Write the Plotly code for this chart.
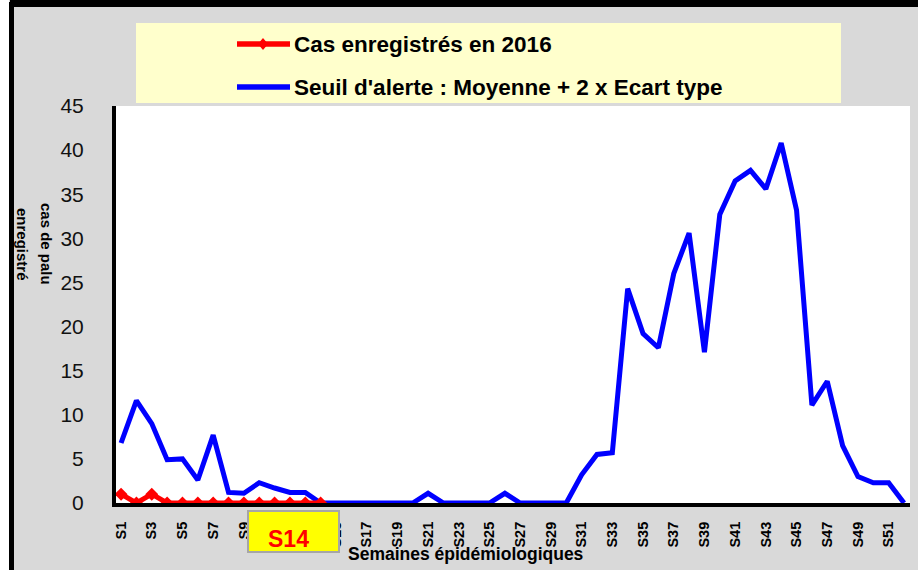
import plotly.graph_objects as go

# ---------------- data ----------------
weeks = ["S%d" % i for i in range(1, 53)]
tick_weeks = ["S%d" % i for i in range(1, 53, 2)]

cases_2016 = [1, 0, 1, 0, 0, 0, 0, 0, 0, 0, 0, 0, 0, 0]

alert_threshold = [
    6.8, 11.6, 9.0, 4.9, 5.0, 2.6, 7.7, 1.2, 1.1, 2.3,
    1.7, 1.2, 1.2, 0, 0, 0, 0, 0, 0, 0,
    1.1, 0, 0, 0, 0, 1.1, 0, 0, 0, 0,
    3.2, 5.5, 5.7, 24.3, 19.2, 17.6, 26.0, 30.6, 17.1, 32.7,
    36.5, 37.7, 35.6, 40.8, 33.2, 11.1, 13.8, 6.5, 3.0, 2.3,
    2.3, 0,
]

y_ticks = [0, 5, 10, 15, 20, 25, 30, 35, 40, 45]

# ---------------- layout geometry (pixels) ----------------
W, H = 918, 570
L, R, T, B = 116, 8, 106, 67
PW = W - L - R
PH = H - T - B


def px(xp):
    return (xp - L) / PW


def py(yp):
    return (H - B - yp) / PH


FONT = "Liberation Sans, Arial, sans-serif"

fig = go.Figure()

fig.add_trace(go.Scatter(
    x=weeks, y=alert_threshold, mode="lines",
    line=dict(color="#0000FF", width=5),
    name="Seuil d'alerte : Moyenne + 2 x Ecart type",
))
fig.add_trace(go.Scatter(
    x=weeks[:len(cases_2016)], y=cases_2016, mode="lines+markers",
    line=dict(color="#FF0000", width=5),
    marker=dict(symbol="diamond", size=10, color="#FF0000"),
    name="Cas enregistrés en 2016",
))

shapes = [
    # left white strip and black frame
    dict(type="rect", xref="paper", yref="paper", x0=px(0), x1=px(9), y0=py(0), y1=py(H),
         fillcolor="white", line=dict(width=0), layer="below"),
    dict(type="rect", xref="paper", yref="paper", x0=px(9), x1=px(14), y0=py(2), y1=py(H),
         fillcolor="black", line=dict(width=0), layer="below"),
    dict(type="rect", xref="paper", yref="paper", x0=px(10), x1=px(W), y0=py(0), y1=py(7),
         fillcolor="black", line=dict(width=0), layer="below"),
    # legend box
    dict(type="rect", xref="paper", yref="paper", x0=px(136), x1=px(841), y0=py(23), y1=py(103),
         fillcolor="#FFFFCC", line=dict(width=0), layer="below"),
    # legend samples
    dict(type="line", xref="paper", yref="paper", x0=px(237), x1=px(290), y0=py(44), y1=py(44),
         line=dict(color="#FF0000", width=5.5)),
    dict(type="path", xref="paper", yref="paper",
         path="M %f,%f L %f,%f L %f,%f L %f,%f Z" % (
             px(263), py(38), px(268), py(44), px(263), py(50), px(258), py(44)),
         fillcolor="#FF0000", line=dict(width=0)),
    dict(type="line", xref="paper", yref="paper", x0=px(237), x1=px(290), y0=py(87), y1=py(87),
         line=dict(color="#0000FF", width=5.5)),
]

annotations = [
    dict(text="<b>Cas enregistrés en 2016</b>", xref="paper", yref="paper",
         x=px(292), y=py(44), xanchor="left", yanchor="middle", showarrow=False,
         font=dict(family=FONT, size=22.5, color="black")),
    dict(text="<b>Seuil d'alerte : Moyenne + 2 x Ecart type</b>", xref="paper", yref="paper",
         x=px(292), y=py(87), xanchor="left", yanchor="middle", showarrow=False,
         font=dict(family=FONT, size=22.5, color="black")),
    # y axis title (two lines)
    dict(text="<b>cas de palu</b>", xref="paper", yref="paper", x=px(47), y=py(244),
         xanchor="center", yanchor="middle", textangle=90, showarrow=False,
         font=dict(family=FONT, size=15, color="black")),
    dict(text="<b>enregistré</b>", xref="paper", yref="paper", x=px(23), y=py(244),
         xanchor="center", yanchor="middle", textangle=90, showarrow=False,
         font=dict(family=FONT, size=15, color="black")),
    # x axis title
    dict(text="<b>Semaines épidémiologiques</b>", xref="paper", yref="paper", x=px(466), y=py(554),
         xanchor="center", yanchor="middle", showarrow=False,
         font=dict(family=FONT, size=17.5, color="black")),
    # S14 box
    dict(text=" ", xref="paper", yref="paper", x=px(293.5), y=py(531.5),
         xanchor="center", yanchor="middle", showarrow=False,
         width=89, height=39, bgcolor="#FFFF00", bordercolor="#A6A6A6", borderwidth=2, borderpad=0,
         font=dict(size=10)),
    dict(text="<b>S14</b>", xref="paper", yref="paper", x=px(288), y=py(539),
         xanchor="center", yanchor="middle", showarrow=False,
         font=dict(family=FONT, size=23, color="#FF0000")),
]

fig.update_layout(
    width=W, height=H,
    margin=dict(l=L, r=R, t=T, b=B, pad=0),
    paper_bgcolor="#D9D9D9",
    plot_bgcolor="white",
    showlegend=False,
    shapes=shapes,
    annotations=annotations,
    xaxis=dict(
        type="category", categoryorder="array", categoryarray=weeks,
        range=[-0.33, 51.39],
        tickmode="array", tickvals=tick_weeks, ticktext=tick_weeks,
        tickangle=-90, ticks="", ticklabelstandoff=9,
        tickfont=dict(family=FONT, size=14.5, color="black", weight="bold"),
        showgrid=False, zeroline=False,
        showline=True, linecolor="black", linewidth=4,
        fixedrange=True,
    ),
    yaxis=dict(
        range=[0, 45], tickmode="array", tickvals=y_ticks,
        ticks="", ticklabelstandoff=24,
        tickfont=dict(family=FONT, size=21, color="#111111"),
        showgrid=False, zeroline=False,
        showline=True, linecolor="black", linewidth=4,
        fixedrange=True,
    ),
)

fig.write_html(
    "out.html",
    config={"displayModeBar": False},
    post_script="document.body.style.margin='0';document.body.style.overflow='hidden';",
)
